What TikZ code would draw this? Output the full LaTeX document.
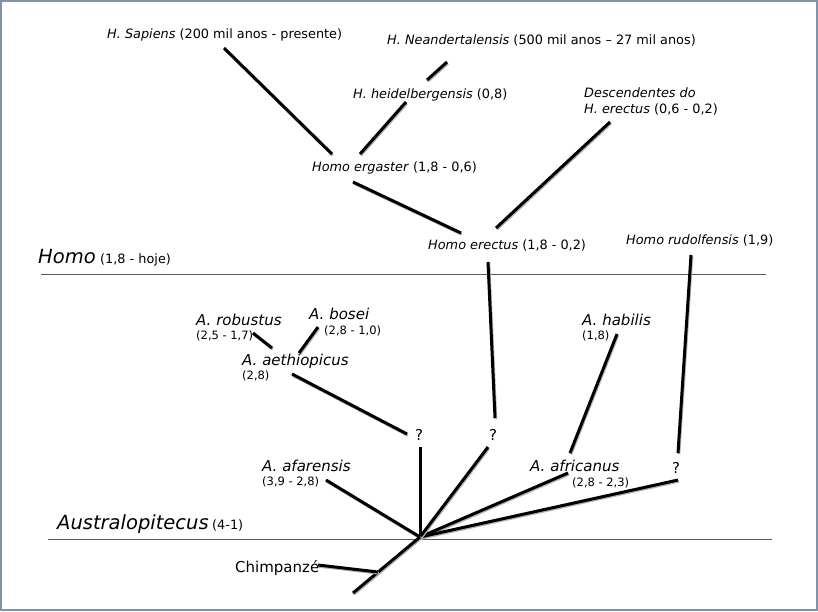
\documentclass[tikz,border=0pt]{standalone}
\usepackage{fontspec}
\setmainfont{DejaVu Sans}
\definecolor{frame}{RGB}{128,146,170}
\begin{document}
\begin{tikzpicture}[x=1pt,y=-1pt,
  lbl/.style={inner sep=0pt, anchor=base west, font=\fontsize{12.85}{15}\selectfont},
  sp/.style={inner sep=0pt, anchor=base west, font=\fontsize{15}{18}\selectfont\itshape},
  num/.style={inner sep=0pt, anchor=base west, font=\fontsize{11.5}{14}\selectfont},
  grp/.style={inner sep=0pt, anchor=base west, font=\fontsize{19.5}{23}\selectfont\itshape},
  qm/.style={inner sep=0pt, anchor=base west, font=\fontsize{15}{18}\selectfont},
  branch/.style={line width=3pt, line cap=butt,
    preaction={draw=black!30, line width=3pt, transform canvas={shift={(0.8pt,-1.2pt)}}}},
  axis/.style={line width=1pt, draw=black!65}]
\useasboundingbox (0,0) rectangle (818,611);
\draw[frame, line width=2pt] (1,1) rectangle (817,610);

% texts
\node[lbl] (sap) at (107,38) {\textit{H. Sapiens} (200 mil anos - presente)};
\node[lbl] (nea) at (387,44) {\textit{H. Neandertalensis} (500 mil anos – 27 mil anos)};
\node[lbl] (hei) at (353,98) {\textit{H. heidelbergensis} (0,8)};
\node[lbl] (des1) at (584,97) {\textit{Descendentes do}};
\node[lbl] (des2) at (584,113) {\textit{H. erectus} (0,6 - 0,2)};
\node[lbl] (erg) at (312,171) {\textit{Homo ergaster} (1,8 - 0,6)};
\node[lbl] (ere) at (428,249) {\textit{Homo erectus} (1,8 - 0,2)};
\node[lbl] (rud) at (626,244) {\textit{Homo rudolfensis} (1,9)};
\node[grp] (homo) at (38,263) {Homo};
\node[lbl] (homod) at (100,263) {(1,8 - hoje)};

\node[sp] (rob) at (196,325) {A. robustus};
\node[num] (robd) at (196,339) {(2,5 - 1,7)};
\node[sp] (bos) at (309,319) {A. bosei};
\node[num] (bosd) at (324,334) {(2,8 - 1,0)};
\node[sp] (aet) at (242,365) {A. aethiopicus};
\node[num] (aetd) at (242,379) {(2,8)};
\node[sp] (hab) at (582,325) {A. habilis};
\node[num] (habd) at (582,339) {(1,8)};
\node[sp] (afa) at (262,471) {A. afarensis};
\node[num] (afad) at (262,485) {(3,9 - 2,8)};
\node[sp] (afr) at (530,471) {A. africanus};
\node[num] (afrd) at (572,486) {(2,8 - 2,3)};
\node[grp] (aus) at (57,529) {Australopitecus};
\node[lbl] (ausd) at (212,529) {(4-1)};
\node[inner sep=0pt, anchor=base west, font=\fontsize{15}{18}\selectfont] (chi) at (235,572) {Chimpanzé};
\node[qm] (q1) at (415,440) {?};
\node[qm] (q2) at (489,440) {?};
\node[qm] (q3) at (672,473) {?};

% group axes
\coordinate (hl1) at (41,274); \coordinate (hl2) at (766,274);
\coordinate (al1) at (48,539); \coordinate (al2) at (772,539);
\draw[axis] (hl1) -- (hl2);
\draw[axis] (al1) -- (al2);

% branch end points
\coordinate (hub) at (420,537);
\coordinate (sapE) at (224,48);   \coordinate (ergA) at (332,154);
\coordinate (heiE) at (406,102);  \coordinate (ergB) at (360,154);
\coordinate (neaA) at (427,80);   \coordinate (neaB) at (447,62);
\coordinate (ergC) at (353,182);  \coordinate (ereA) at (461,233);
\coordinate (desE) at (610,122);  \coordinate (ereB) at (496,228);
\coordinate (ereC) at (488,262);  \coordinate (q2A) at (495,418);
\coordinate (rudA) at (691,255);  \coordinate (q3A) at (678,453);
\coordinate (robE) at (253,333);  \coordinate (aetA) at (272,348);
\coordinate (bosE) at (318,327);  \coordinate (aetB) at (299,353);
\coordinate (aetC) at (292,374);  \coordinate (q1A) at (407,434);
\coordinate (habE) at (617,334);  \coordinate (afrA) at (570,453);
\coordinate (afrB) at (568,473);  \coordinate (q3B) at (678,480);
\coordinate (q2B) at (488,447);   \coordinate (q1B) at (420,447);
\coordinate (afaE) at (326,480);
\coordinate (root) at (353,593);
\coordinate (chiA) at (318,565);  \coordinate (chiB) at (378,572);

\draw[branch] (sapE) -- (ergA);
\draw[branch] (heiE) -- (ergB);
\draw[branch] (neaA) -- (neaB);
\draw[branch] (ergC) -- (ereA);
\draw[branch] (desE) -- (ereB);
\draw[branch] (ereC) -- (q2A);
\draw[branch] (rudA) -- (q3A);
\draw[branch] (robE) -- (aetA);
\draw[branch] (bosE) -- (aetB);
\draw[branch] (aetC) -- (q1A);
\draw[branch] (habE) -- (afrA);
\draw[branch] (afrB) -- (hub);
\draw[branch] (q3B) -- (hub);
\draw[branch] (q2B) -- (hub);
\draw[branch] (q1B) -- (hub);
\draw[branch] (afaE) -- (hub);
\draw[branch] (hub) -- (root);
\draw[branch] (chiA) -- (chiB);
\end{tikzpicture}
\end{document}
